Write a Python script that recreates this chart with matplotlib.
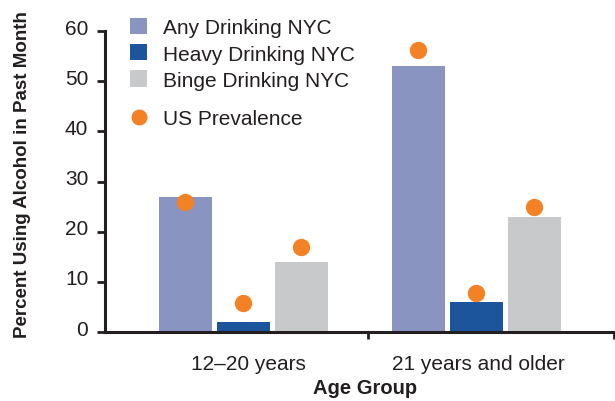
import matplotlib
matplotlib.use("Agg")
import matplotlib.pyplot as plt
import matplotlib.transforms as mtransforms
import numpy as np
from matplotlib.lines import Line2D
from matplotlib.patches import Patch

groups = ["12\u201320 years", "21 years and older"]
series = ["Any Drinking NYC", "Heavy Drinking NYC", "Binge Drinking NYC"]
any_nyc = [27, 53]
heavy_nyc = [2, 6]
binge_nyc = [14, 23]
us_prev_any = [26, 56.2]
us_prev_heavy = [5.8, 7.8]
us_prev_binge = [16.9, 25]
yticks = [0, 10, 20, 30, 40, 50, 60]

colors = ["#8A94C1", "#1C559C", "#C8C9CB"]
orange = "#F28225"
txt = "#231F20"

plt.rcParams['font.family'] = ['Liberation Sans', 'DejaVu Sans']

fig = plt.figure(figsize=(6.15, 4.02), dpi=100)
ax = fig.add_axes([0.1707, 0.1716, 0.8273, 0.7484])

x = np.arange(len(groups))
step = 0.249
width = 0.227
vals = [any_nyc, heavy_nyc, binge_nyc]
dots = [us_prev_any, us_prev_heavy, us_prev_binge]
for i in range(3):
    xs = x + (i - 1) * step
    ax.bar(xs, vals[i], width=width, color=colors[i], zorder=2)
    ax.plot(xs, dots[i], 'o', color=orange, markersize=12.5, markeredgewidth=0, zorder=3)

ax.set_xlim(-0.594, 1.59)
ax.set_ylim(0, 60)
ax.set_yticks(yticks)
ax.set_yticklabels([str(v) for v in yticks], fontsize=15, color=txt)

ax.set_xticks([0.534, 1.59])
ax.set_xticklabels(["", ""])
ax.set_xticks([0.02, 1.01], minor=True)
ax.set_xticklabels(groups, minor=True, fontsize=15, color=txt)
ax.tick_params(axis='x', which='minor', length=0, pad=16)
ax.tick_params(axis='x', which='major', length=5, width=2, color=txt, direction='out')
ax.tick_params(axis='y', length=6, width=2, color=txt, direction='out', pad=6)

off = mtransforms.ScaledTranslation(0, 5 / 100, fig.dpi_scale_trans)
for t in ax.yaxis.get_major_ticks():
    t.label1.set_transform(t.label1.get_transform() + off)

for s in ['top', 'right']:
    ax.spines[s].set_visible(False)
for s in ['left', 'bottom']:
    ax.spines[s].set_linewidth(2.2)
    ax.spines[s].set_color(txt)

ax.set_xlabel("Age Group", fontsize=14.5, fontweight='bold', color=txt)
ax.xaxis.set_label_coords(0.511, -0.152)
ax.set_ylabel("Percent Using Alcohol in Past Month", fontsize=13.5, fontweight='bold', color=txt)
ax.yaxis.set_label_coords(31 / 615, 1 - 175 / 402, transform=fig.transFigure)

handles = [Patch(facecolor=c, edgecolor='none') for c in colors]
leg1 = fig.legend(handles, series, loc='upper left', bbox_to_anchor=(130 / 615, 1 - 19 / 402),
                  bbox_transform=fig.transFigure, frameon=False, fontsize=15, labelcolor=txt,
                  handlelength=0.82, handleheight=0.82, handletextpad=0.77,
                  labelspacing=0.33, borderpad=0, borderaxespad=0)
dot_handle = Line2D([], [], marker='o', linestyle='none', color=orange, markersize=11.5, markeredgewidth=0)
leg2 = fig.legend([dot_handle], ["US Prevalence"], loc='upper left',
                  bbox_to_anchor=(130 / 615, 1 - 110 / 402), bbox_transform=fig.transFigure,
                  frameon=False, fontsize=15, labelcolor=txt, handlelength=0.82,
                  handletextpad=0.77, borderpad=0, borderaxespad=0)

fig.savefig("out.png", dpi=100)
